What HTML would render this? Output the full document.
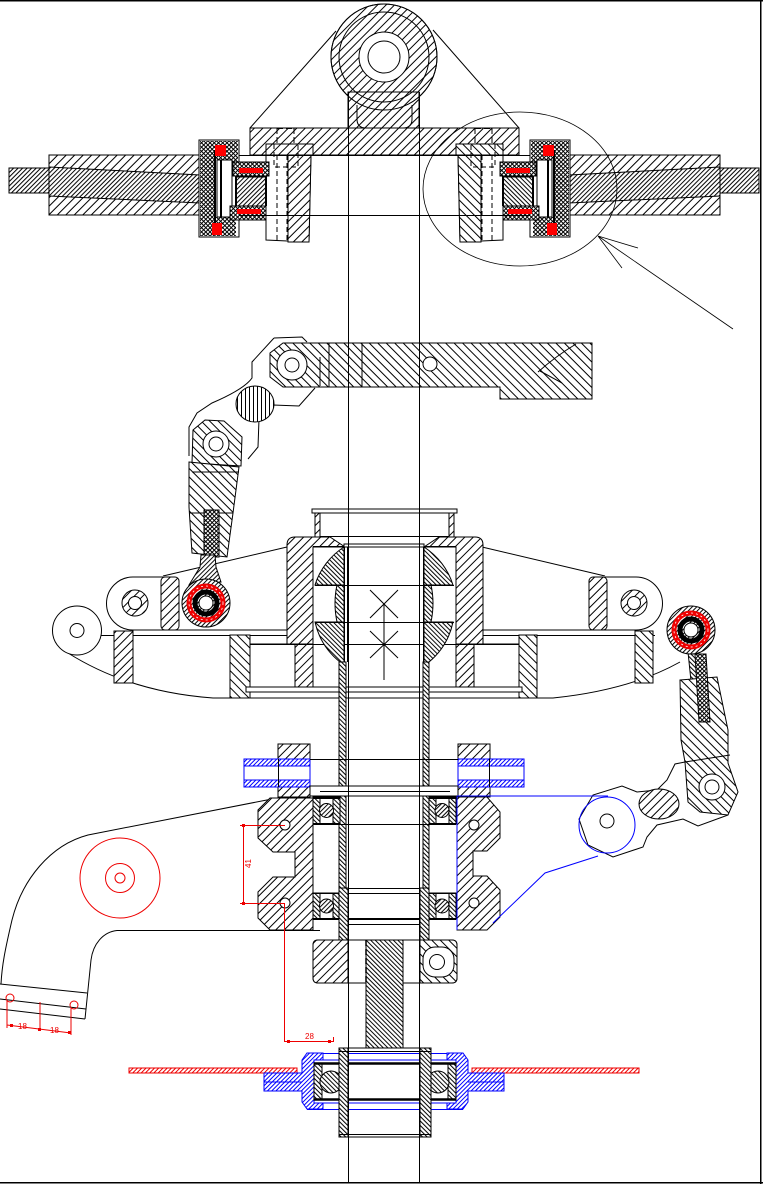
<!DOCTYPE html>
<html><head><meta charset="utf-8"><title>Rotor head drawing</title>
<style>html,body{margin:0;padding:0;background:#fff}svg{display:block}</style></head>
<body>
<svg xmlns="http://www.w3.org/2000/svg" width="763" height="1184" viewBox="0 0 763 1184">
<defs>
<pattern id="hA" width="6" height="6" patternUnits="userSpaceOnUse" patternTransform="rotate(45)"><rect width="6" height="6" fill="#fff"/><rect x="0" y="0" width="1" height="6" fill="#000"/></pattern>
<pattern id="hB" width="6" height="6" patternUnits="userSpaceOnUse" patternTransform="rotate(-45)"><rect width="6" height="6" fill="#fff"/><rect x="0" y="0" width="1" height="6" fill="#000"/></pattern>
<pattern id="dA" width="3.2" height="3.2" patternUnits="userSpaceOnUse" patternTransform="rotate(45)"><rect width="3.2" height="3.2" fill="#fff"/><rect x="0" y="0" width="1" height="3.2" fill="#000"/></pattern>
<pattern id="dB" width="3.2" height="3.2" patternUnits="userSpaceOnUse" patternTransform="rotate(-45)"><rect width="3.2" height="3.2" fill="#fff"/><rect x="0" y="0" width="1" height="3.2" fill="#000"/></pattern>
<pattern id="hX" width="3" height="3" patternUnits="userSpaceOnUse" patternTransform="rotate(45)"><rect width="3" height="3" fill="#fff"/><rect x="0" y="0" width="1" height="3" fill="#000"/><rect x="0" y="0" width="3" height="1" fill="#000"/></pattern>
<pattern id="hV" width="4" height="4" patternUnits="userSpaceOnUse"><rect width="4" height="4" fill="#fff"/><rect x="1" y="0" width="1" height="4" fill="#000"/></pattern>
<pattern id="bl" width="3" height="3" patternUnits="userSpaceOnUse" patternTransform="rotate(45)"><rect width="3" height="3" fill="#fff"/><rect x="0" y="0" width="1" height="3" fill="#00f"/></pattern>
<pattern id="rd" width="3" height="3" patternUnits="userSpaceOnUse" patternTransform="rotate(45)"><rect width="3" height="3" fill="#fff"/><rect x="0" y="0" width="1" height="3" fill="#e00"/></pattern>

<g id="bj">
 <circle r="24" fill="url(#dA)" stroke="#000" stroke-width="1"/>
 <circle r="17" fill="none" stroke="#e00" stroke-width="5"/>
 <circle r="17" fill="none" stroke="#fff" stroke-width="0.8" stroke-dasharray="2,3"/>
 <circle r="11" fill="none" stroke="#000" stroke-width="5"/>
 <circle r="7" fill="#fff" stroke="#000" stroke-width="1"/>
</g>

<g id="grip" stroke="#000" stroke-width="1" fill="none">
 <path d="M266,144 H313 V155 H311 L309,242 L266,240 Z" fill="#fff"/>
 <path d="M288,155 H311 L309,242 H288 Z" fill="url(#hA)"/>
 <rect x="266" y="144" width="47" height="11" fill="url(#hA)"/>
 <path d="M274,144 V167 H298 V144 M277,155 V240 M287,155 V240" stroke-dasharray="5,3"/>
 <rect x="199" y="140" width="40" height="97" fill="#fff"/>
 <rect x="200" y="141" width="38" height="19" fill="url(#hX)" stroke="none"/>
 <rect x="200" y="141" width="15" height="95" fill="url(#hX)" stroke="none"/>
 <rect x="200" y="217" width="36" height="19" fill="url(#hX)" stroke="none"/>
 <rect x="227" y="141" width="11" height="35" fill="url(#hX)" stroke="none"/>
 <rect x="217" y="160" width="15" height="57" fill="#fff"/>
 <line x1="221" y1="160" x2="221" y2="217" stroke-width="2"/>
 <line x1="215" y1="150" x2="215" y2="232" stroke-width="2"/>
 <rect x="215" y="145" width="11" height="11" fill="#f00" stroke="none"/>
 <rect x="212" y="223" width="10" height="12" fill="#f00" stroke="none"/>
 <rect x="233" y="162" width="36" height="14" fill="url(#hX)"/>
 <rect x="239" y="168" width="24" height="5" fill="#f00" stroke="none"/>
 <rect x="236" y="177" width="30" height="29" fill="url(#dA)"/>
 <rect x="230" y="206" width="36" height="14" fill="url(#hX)"/>
 <rect x="237" y="209" width="24" height="5" fill="#f00" stroke="none"/>
 <line x1="266" y1="176" x2="266" y2="206" stroke-width="2"/>
 <line x1="236" y1="176" x2="236" y2="206" stroke-width="2"/>
</g>
</defs>

<g fill="none" stroke="#000" stroke-width="1">

<!-- border -->
<path d="M0,0.75 H763 M760.75,0 V1184 M0,1182.75 H763" stroke-width="1.5"/>

<!-- ===== ROTOR HEAD ===== -->
<path d="M250,128 L336,31 M519,128 L433,30"/>
<circle cx="384" cy="57" r="53" fill="url(#hA)"/>
<rect x="348" y="92" width="71" height="36" fill="url(#hA)"/>
<circle cx="384" cy="57" r="53"/>
<circle cx="384" cy="57" r="45"/>
<path d="M357,105 V119 Q357,128 366,128 M412,105 V119 Q412,128 403,128"/>
<circle cx="384" cy="57" r="25" fill="#fff"/>
<circle cx="384" cy="57" r="16"/>
<rect x="250" y="128" width="269" height="27" fill="url(#hA)"/>
<path d="M277,128 V166 M294,128 V166 M475,128 V166 M492,128 V166 M277,128.5 H294 M475,128.5 H492" stroke-dasharray="6,3"/>

<!-- grips -->
<rect x="49" y="155" width="151" height="60" fill="url(#hA)"/>
<rect x="569" y="155" width="151" height="60" fill="url(#hA)"/>
<path d="M49,167 L200,175 L200,203 L49,196 Z" fill="url(#dA)"/>
<rect x="9" y="168" width="40" height="25" fill="url(#dA)"/>
<path d="M720,167 L569,175 L569,203 L720,196 Z" fill="url(#dA)"/>
<rect x="720" y="168" width="39" height="25" fill="url(#dA)"/>

<use href="#grip"/>
<use href="#grip" transform="translate(769,0) scale(-1,1)"/>

<path d="M239,155.5 H530 M239,215.5 H530"/>

<!-- detail ellipse -->
<ellipse cx="520" cy="189" rx="97" ry="77" stroke-width="0.8"/>
<path d="M598,236 L733,329 M598,236 L638,248 M598,236 L622,268" stroke-width="0.8"/>

<!-- ===== UPPER LINKAGE ===== -->
<path d="M274,338 L302,337 L307,342 M274,338 L252,362 V378 C245,388 226,397 212,403 L197,413 L189,427 V456 M315,388 L299,406 L273,405 C265,407 259,413 259,419 L258,447 L248,459"/>
<ellipse cx="255" cy="404" rx="19" ry="18" fill="url(#hV)"/>
<path d="M283,343 H592 V399 H500 V387 H283 L270,377 V353 Z" fill="url(#hB)"/>
<path d="M329,343 V387 M362,343 V387 M320,357 V386"/>
<circle cx="292" cy="365" r="15" fill="#fff"/>
<circle cx="292" cy="365" r="7"/>
<circle cx="430" cy="364" r="7" fill="#fff"/>
<path d="M538,372 Q556,356 576,344 M540,371 L562,383"/>

<!-- lower boss + link -->
<path d="M193,430 L205,420 L224,421 L242,437 L241,466 L192,463 Z" fill="url(#hB)"/>
<circle cx="216" cy="444" r="13" fill="#fff"/>
<circle cx="216" cy="444" r="7"/>

<!-- ===== SWASHPLATE ===== -->
<!-- arms upper lines -->
<path d="M287,547 L163,576 M482,547 L605,576"/>
<!-- ears -->
<path d="M163,577 H133 A26.5,26.5 0 0 0 133,630 H287"/>
<path d="M605,577 H636 A26.5,26.5 0 0 1 636,630 H482"/>
<rect x="161" y="577" width="18" height="53" rx="4" fill="url(#hA)"/>
<rect x="589" y="577" width="18" height="53" rx="4" fill="url(#hA)"/>
<circle cx="135" cy="603" r="13" fill="url(#hA)"/>
<circle cx="135" cy="603" r="6.5" fill="#fff"/>
<circle cx="634" cy="603" r="13" fill="url(#hA)"/>
<circle cx="634" cy="603" r="6.5" fill="#fff"/>

<!-- lower ring -->
<path d="M101,635.5 H287 M482,635.5 H655"/>
<path d="M68,653 Q130,692 213,698 H553 Q630,690 680,662"/>
<rect x="114" y="631" width="19" height="52" fill="url(#hA)"/>
<rect x="635" y="631" width="18" height="52" fill="url(#hB)"/>
<rect x="230" y="635" width="20" height="63" fill="url(#hB)"/>
<rect x="519" y="635" width="18" height="63" fill="url(#hB)"/>
<rect x="250" y="644" width="45" height="44" fill="#fff"/>
<rect x="474" y="644" width="45" height="44" fill="#fff"/>
<rect x="295" y="644" width="18" height="44" fill="url(#hA)"/>
<rect x="456" y="644" width="18" height="44" fill="url(#hA)"/>
<path d="M250,644.5 H519"/>
<rect x="246" y="687" width="276" height="5" fill="#fff"/>
<circle cx="77" cy="630.5" r="24.5" fill="#fff"/>
<circle cx="77" cy="630.5" r="7"/>

<!-- body walls -->
<path d="M287,545 Q287,537 295,537 L330,537 L345,547 L313,547 L313,644 L287,644 Z" fill="url(#hA)"/>
<path d="M483,545 Q483,537 475,537 L439,537 L424,547 L456,547 L456,644 L483,644 Z" fill="url(#hA)"/>
<!-- cup -->
<rect x="312" y="509" width="145" height="4" fill="#fff"/>
<rect x="315" y="513" width="5" height="24" fill="url(#hA)"/>
<rect x="449" y="513" width="5" height="24" fill="url(#hA)"/>
<path d="M320,536.5 H449"/>
<!-- inner -->
<path d="M313,546.5 H456"/>
<rect x="344" y="544" width="80" height="3" fill="#fff"/>
<path d="M344.5,547 V662 M347.5,547 V662 M423.5,547 V662"/>
<path d="M344,547 A70,70 0 0 0 315,585 L344,585 Z" fill="url(#dB)"/>
<path d="M424,547 A70,70 0 0 1 453,585 L424,585 Z" fill="url(#dB)"/>
<path d="M315,622 A71,71 0 0 0 340,662 L344,662 L344,622 Z" fill="url(#dB)"/>
<path d="M453,622 A71,71 0 0 1 429,662 L424,662 L424,622 Z" fill="url(#dB)"/>
<path d="M337,585 Q333,603 337,622 L344,622 L344,585 Z" fill="url(#dB)"/>
<path d="M431,585 Q435,603 431,622 L424,622 L424,585 Z" fill="url(#dB)"/>
<path d="M315,585.5 H454 M315,622.5 H454"/>
<path d="M370,590 L398,618 M398,590 L370,618 M370,631 L398,658 M398,631 L370,658 M384,604 V680"/>

<!-- tube -->
<rect x="339" y="662" width="7" height="263" fill="url(#dB)"/>
<rect x="423" y="662" width="6" height="263" fill="url(#dB)"/>

<!-- left link rod + ball joint -->
<path d="M189,462 L239,467 L233,513 L227,557 L192,553 L189,507 Z" fill="url(#hB)"/>
<path d="M192,472 H239 M189,513 H233"/>
<rect x="204" y="510" width="15" height="47" fill="url(#hX)"/>
<path d="M201,555 L215,555 L216,567 L221,582 L189,585 L200,567 Z" fill="url(#dA)"/>
<use href="#bj" x="206" y="603"/>

<!-- right ball joint + link -->
<path d="M688,652 L697,652 L701,680 L691,681 Z" fill="url(#dB)"/>
<path d="M680,680 L717,677 L728,730 L728,763 L738,792 L728,815 L700,812 L688,802 L685,762 L681,740 Z" fill="url(#hB)"/>
<path d="M695,654 L706,654 L710,722 L699,722 Z" fill="url(#hX)"/>
<path d="M685,762 L730,755"/>
<circle cx="712" cy="787" r="13" fill="#fff"/>
<circle cx="712" cy="787" r="7"/>
<use href="#bj" x="691" y="630"/>

<!-- right bellcrank -->
<path d="M685,762 L675,764 L667,780 L657,790 L637,792 L622,786 L593,795 L579,819 L588,845 L613,857 L643,847 L647,837 L657,825 L683,819 L698,826 L728,815"/>
<ellipse cx="659" cy="804" rx="20" ry="15" fill="url(#hA)"/>

<!-- ===== LOWER SECTION ===== -->
<rect x="278" y="744" width="32" height="53" fill="url(#hA)"/>
<rect x="458" y="744" width="32" height="53" fill="url(#hA)"/>
<g stroke="#00f">
 <rect x="244" y="759" width="66" height="28" fill="#fff"/>
 <rect x="244" y="759" width="66" height="7" fill="url(#bl)"/>
 <rect x="244" y="780" width="66" height="7" fill="url(#bl)"/>
 <rect x="458" y="759" width="66" height="28" fill="#fff"/>
 <rect x="458" y="759" width="66" height="7" fill="url(#bl)"/>
 <rect x="458" y="780" width="66" height="7" fill="url(#bl)"/>
</g>
<path d="M278.5,759 V787 M489.5,759 V787 M310,759.5 H458 M310,787.5 H458"/>
<rect x="310" y="786" width="148" height="10" fill="#fff"/>
<path d="M320,791.5 H450"/>

<!-- big left arm -->
<path d="M277,798 L88,835 C50,845 22,880 12,920 C5,950 2,965 1,984"/>
<path d="M320,930.5 H117 C103,932 93,944 91,960 L85,1019"/>
<path d="M0,984 L87,993 M0,999 L86,1009 M0,1009 L85,1019"/>

<!-- housings -->
<path d="M270,798 H313 V930 H270 L258,918 V892 L273,877 H295 V852 H273 L258,838 V810 Z" fill="url(#hA)"/>
<circle cx="285" cy="825" r="5" fill="#fff"/>
<circle cx="285" cy="903" r="5" fill="#fff"/>
<path d="M457,797 H487 L500,812 V838 L487,851 H473 V876 H487 L500,890 V917 L487,930 H457 Z" fill="url(#hA)"/>
<circle cx="474" cy="825" r="5" fill="#fff"/>
<circle cx="474" cy="903" r="5" fill="#fff"/>

<!-- bearings -->
<g>
 <rect x="313" y="797" width="27" height="27" fill="#fff"/>
 <rect x="313" y="797" width="7" height="27" fill="url(#dB)"/>
 <rect x="333" y="797" width="7" height="27" fill="url(#dB)"/>
 <circle cx="326.5" cy="810.5" r="7" fill="url(#dA)"/>
 <rect x="313" y="893" width="27" height="26" fill="#fff"/>
 <rect x="313" y="893" width="7" height="26" fill="url(#dB)"/>
 <rect x="333" y="893" width="7" height="26" fill="url(#dB)"/>
 <circle cx="326.5" cy="906" r="7" fill="url(#dA)"/>
 <rect x="429" y="797" width="27" height="27" fill="#fff"/>
 <rect x="429" y="797" width="7" height="27" fill="url(#dB)"/>
 <rect x="449" y="797" width="7" height="27" fill="url(#dB)"/>
 <circle cx="442" cy="810.5" r="7" fill="url(#dA)"/>
 <rect x="429" y="893" width="27" height="26" fill="#fff"/>
 <rect x="429" y="893" width="7" height="26" fill="url(#dB)"/>
 <rect x="449" y="893" width="7" height="26" fill="url(#dB)"/>
 <circle cx="442" cy="906" r="7" fill="url(#dA)"/>
</g>
<path d="M313,798 H340 M429,798 H456 M313,824 H340 M429,824 H456" stroke-width="2"/>
<path d="M313,824.5 H456 M345,888.5 H423 M313,893.5 H456 M340,924.5 H429"/>
<path d="M313,919 H456" stroke-width="2"/>
<rect x="339" y="888" width="9" height="52" fill="url(#dB)"/>
<rect x="420" y="888" width="9" height="52" fill="url(#dB)"/>

<!-- blue lines right -->
<g stroke="#00f">
 <path d="M457,796 H608"/>
 <circle cx="607" cy="825" r="28"/>
 <path d="M598,856 L545,873 L493,923"/>
 <path d="M457,796 V930"/>
</g>
<circle cx="607" cy="821" r="7"/>

<!-- lower collar -->
<rect x="313" y="940" width="144" height="43" rx="5" fill="#fff"/>
<path d="M318,940 H348 V983 H318 Q313,983 313,978 V945 Q313,940 318,940 Z" fill="url(#hA)"/>
<path d="M420,940 H452 Q457,940 457,945 V978 Q457,983 452,983 H420 Z" fill="url(#hB)"/>
<rect x="423" y="947" width="31" height="30" rx="12" fill="#fff"/>
<circle cx="437" cy="962" r="7.5"/>
<rect x="366" y="940" width="37" height="108" fill="url(#dB)"/>
<path d="M366,940 V983" stroke-dasharray="6,3" stroke-width="1.5"/>

<!-- ===== BOTTOM ASSEMBLY ===== -->
<rect x="129" y="1068" width="168" height="5" fill="url(#rd)" stroke="#e00"/>
<rect x="472" y="1068" width="167" height="5" fill="url(#rd)" stroke="#e00"/>
<g stroke="#00f">
 <path d="M307,1053.5 H463 M307,1109.5 H463"/>
 <rect x="314" y="1060" width="142" height="43"/>
 <path d="M307,1053 L323,1053 L323,1060 L314,1060 L314,1103 L323,1103 L323,1109 L307,1109 L302,1102 L302,1091 L264,1091 L264,1073 L302,1073 L302,1060 Z" fill="url(#bl)"/>
 <path d="M463,1053 L447,1053 L447,1060 L456,1060 L456,1103 L447,1103 L447,1109 L463,1109 L468,1102 L468,1091 L504,1091 L504,1073 L468,1073 L468,1060 Z" fill="url(#bl)"/>
 <path d="M264,1082 H302 M468,1082 H504"/>
</g>
<rect x="314" y="1063" width="142" height="37" fill="#fff"/>
<rect x="314" y="1063" width="8" height="37" fill="url(#dB)"/>
<rect x="448" y="1063" width="8" height="37" fill="url(#dB)"/>
<path d="M314,1063.5 H456 M314,1099.5 H456" stroke-width="2.5"/>
<circle cx="331" cy="1082" r="11" fill="url(#dB)"/>
<circle cx="438" cy="1082" r="11" fill="url(#dB)"/>
<rect x="339" y="1048" width="92" height="89"/>
<rect x="339" y="1048" width="9" height="89" fill="url(#dB)"/>
<rect x="420" y="1048" width="11" height="89" fill="url(#dB)"/>
<path d="M339,1051.5 H431 M339,1134.5 H431"/>

<!-- ===== RED DIMENSIONS / CIRCLES ===== -->
<g stroke="#e00">
 <circle cx="120" cy="878" r="40"/>
 <circle cx="120" cy="878" r="14.5"/>
 <circle cx="120" cy="878" r="5"/>
 <circle cx="10" cy="998" r="4"/>
 <circle cx="74" cy="1005" r="4"/>
 <path d="M7,1000 V1028 M40,1002 V1031 M71,1007 V1035 M7,1025 L71,1033"/>
 <path d="M243.5,825 V903 M240,825.5 H285 M240,903.5 H285"/>
 <path d="M284.5,903 V1042 M284,1041.5 H333 M333.5,1037 V1042"/>
</g>
<g fill="#e00" stroke="none">
 <rect x="242" y="824" width="3" height="3"/>
 <rect x="242" y="902" width="3" height="3"/>
 <rect x="287" y="1040" width="3" height="3"/>
 <rect x="328" y="1040" width="3" height="3"/>
 <rect x="10" y="1024" width="3" height="3"/>
 <rect x="38" y="1028" width="3" height="3"/>
 <rect x="68" y="1031" width="3" height="3"/>
</g>
<g fill="#e00" stroke="none" font-family="'Liberation Sans', sans-serif" font-size="8">
 <text x="18" y="1029">18</text>
 <text x="50" y="1033">18</text>
 <text x="305" y="1039">28</text>
 <text transform="translate(251,868) rotate(-90)">41</text>
</g>

<!-- centerlines -->
<path d="M348.5,92 V1183 M419.5,92 V1183"/>
</g>
</svg>
</body></html>
